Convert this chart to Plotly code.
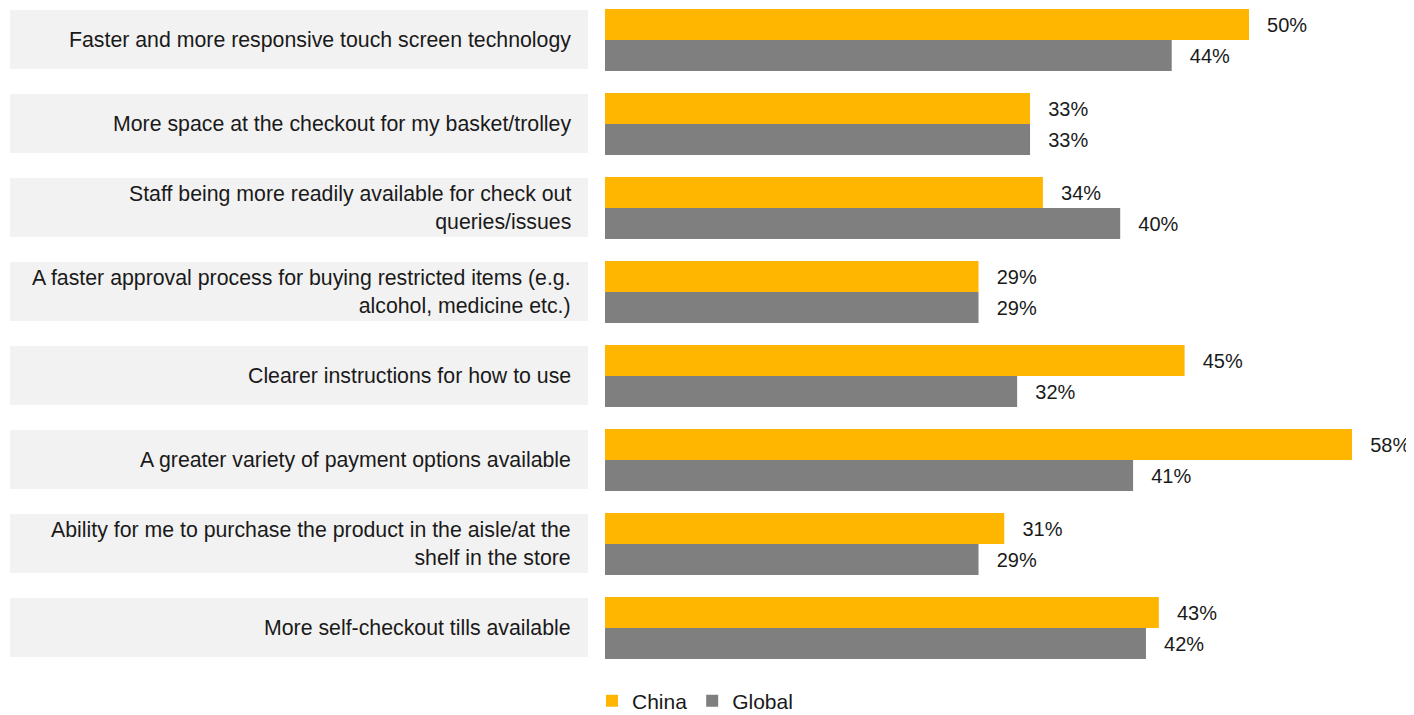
import plotly.graph_objects as go

categories = [
    "Faster and more responsive touch screen technology",
    "More space at the checkout for my basket/trolley",
    "Staff being more readily available for check out<br>queries/issues",
    "A faster approval process for buying restricted items (e.g.<br>alcohol, medicine etc.)",
    "Clearer instructions for how to use",
    "A greater variety of payment options available",
    "Ability for me to purchase the product in the aisle/at the<br>shelf in the store",
    "More self-checkout tills available",
]
china = [50, 33, 34, 29, 45, 58, 31, 43]
global_ = [44, 33, 40, 29, 32, 41, 29, 42]

ORANGE = "#FFB600"
GRAY = "#7F7F7F"
FONT = "Liberation Sans, Arial, sans-serif"

OFF = 8  # page body margin
W, H = 1414 - OFF, 715 - OFF
ML, MR, MT, MB = 605 - OFF, 0, 0, 35
plot_w = W - ML - MR
plot_h = H - MT - MB
px_per_unit = 12.88
xmax = plot_w / px_per_unit
slot = 84.0
first_center = 40.0 - OFF
y_top = -first_center / slot
y_bot = (plot_h - first_center) / slot

pos = list(range(len(categories)))
PAD = "\u00a0\u00a0\u2009"

fig = go.Figure()
fig.add_trace(go.Bar(
    y=pos, x=china, name="China", orientation="h",
    marker=dict(color=ORANGE, line=dict(width=0)),
    text=[f"{PAD}{v}%" for v in china], textposition="outside",
    textfont=dict(family=FONT, size=20, color="#1a1a1a"),
    cliponaxis=False,
))
fig.add_trace(go.Bar(
    y=pos, x=global_, name="Global", orientation="h",
    marker=dict(color=GRAY, line=dict(width=0)),
    text=[f"{PAD}{v}%" for v in global_], textposition="outside",
    textfont=dict(family=FONT, size=20, color="#1a1a1a"),
    cliponaxis=False,
))

def px_to_paper_x(px_screen):
    return (px_screen - OFF - ML) / plot_w

for i, lab in enumerate(categories):
    fig.add_shape(type="rect", xref="paper", yref="y",
                  x0=px_to_paper_x(10), x1=px_to_paper_x(588),
                  y0=i - 30 / slot, y1=i + 29 / slot,
                  fillcolor="#F2F2F2", line=dict(width=0), layer="below")
    fig.add_annotation(xref="paper", yref="y", x=px_to_paper_x(573), y=i,
                       text=lab, showarrow=False, xanchor="right", yanchor="middle",
                       align="right",
                       font=dict(family=FONT, size=21.3, color="#1a1a1a"))

fig.update_layout(
    width=W, height=H,
    margin=dict(l=ML, r=MR, t=MT, b=MB, autoexpand=False),
    paper_bgcolor="white", plot_bgcolor="white",
    barmode="group", bargap=22 / slot, bargroupgap=0,
    showlegend=True,
    legend=dict(orientation="h", xref="container", yref="container",
                x=(592 - OFF) / W, xanchor="left",
                y=(H - (701 - OFF)) / H, yanchor="middle",
                font=dict(family=FONT, size=21, color="#1a1a1a"),
                itemwidth=30, tracegroupgap=0, bgcolor="rgba(0,0,0,0)"),
    xaxis=dict(range=[0, xmax], visible=False, fixedrange=True),
    yaxis=dict(range=[y_bot, y_top], visible=False, fixedrange=True),
)

fig.write_html("out.html")
